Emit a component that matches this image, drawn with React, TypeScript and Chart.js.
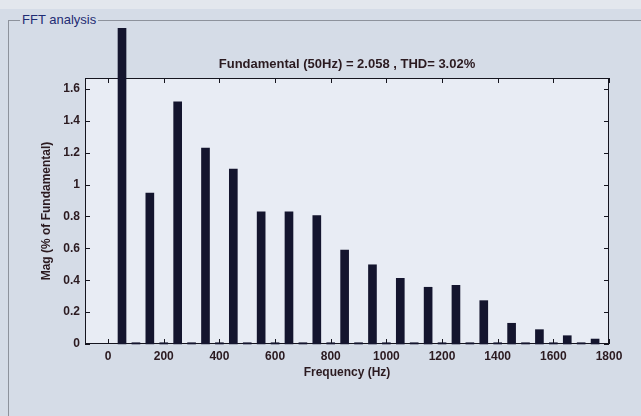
import React, { useEffect, useRef } from "react";
import { Chart, registerables } from "chart.js";

Chart.register(...registerables);

// Harmonic frequencies (Hz) and magnitudes (% of fundamental)
const frequencies = [50, 100, 150, 200, 250, 300, 350, 400, 450, 500, 550, 600, 650, 700, 750, 800, 850, 900, 950, 1000, 1050, 1100, 1150, 1200, 1250, 1300, 1350, 1400, 1450, 1500, 1550, 1600, 1650, 1700, 1750];
const magnitudes = [1.98, 0.008, 0.947, 0.008, 1.52, 0.008, 1.23, 0.008, 1.098, 0.008, 0.83, 0.008, 0.83, 0.008, 0.805, 0.008, 0.59, 0.008, 0.497, 0.008, 0.412, 0.008, 0.356, 0.008, 0.368, 0.008, 0.272, 0.008, 0.13, 0.008, 0.09, 0.008, 0.052, 0.008, 0.031];
const xTickValues = [0, 200, 400, 600, 800, 1000, 1200, 1400, 1600, 1800];
const yTickValues = [0, 0.2, 0.4, 0.6, 0.8, 1, 1.2, 1.4, 1.6];
const xRange = [-83, 1800];
const yRange = [0, 1.669];

const chartTitle = "Fundamental (50Hz) = 2.058 , THD= 3.02%";
const xTitle = "Frequency (Hz)";
const yTitle = "Mag (% of Fundamental)";
const panelTitle = "FFT analysis";

const FONT = "'Liberation Sans', Arial, sans-serif";
const TEXT = "#2b1a20";

const framePlugin = {
  id: "matlabFrame",
  beforeDraw(chart: any) {
    const { ctx, chartArea } = chart;
    const { left, right, top, bottom } = chartArea;
    ctx.save();
    ctx.fillStyle = "#e8ecf4";
    ctx.fillRect(left, top, right - left, bottom - top);
    ctx.restore();
  },
  beforeDatasetsDraw(chart: any) {
    const { ctx, chartArea, scales } = chart;
    const { left, right, top, bottom } = chartArea;
    const x = scales.x;
    const y = scales.y;
    ctx.save();
    ctx.strokeStyle = "#15151f";
    ctx.lineWidth = 1;
    ctx.strokeRect(left + 0.5, top + 0.5, right - left - 1, bottom - top - 1);
    const tl = 5;
    ctx.beginPath();
    xTickValues.forEach((v) => {
      const px = Math.round(x.getPixelForValue(v)) + 0.5;
      ctx.moveTo(px, bottom);
      ctx.lineTo(px, bottom - tl);
      ctx.moveTo(px, top);
      ctx.lineTo(px, top + tl);
    });
    yTickValues.forEach((v) => {
      const py = Math.round(y.getPixelForValue(v)) + 0.5;
      ctx.moveTo(left, py);
      ctx.lineTo(left + tl, py);
      ctx.moveTo(right, py);
      ctx.lineTo(right - tl, py);
    });
    ctx.stroke();
    ctx.fillStyle = TEXT;
    ctx.font = `bold 13px ${FONT}`;
    ctx.textAlign = "center";
    ctx.textBaseline = "middle";
    ctx.fillText(chartTitle, (left + right) / 2, 64);
    ctx.restore();
  },
};

export default function App() {
  const ref = useRef<HTMLCanvasElement | null>(null);

  useEffect(() => {
    if (!ref.current) return;
    const chart = new Chart(ref.current, {
      type: "bar",
      data: {
        datasets: [
          {
            data: frequencies.map((f, i) => ({ x: f, y: magnitudes[i] })),
            backgroundColor: "#14152e",
            borderWidth: 0,
            barThickness: 8,
            clip: false as any,
          },
        ],
      },
      options: {
        animation: false,
        responsive: false,
        layout: { padding: { top: 78, right: 32, left: 0, bottom: 0 } },
        plugins: {
          legend: { display: false },
          tooltip: { enabled: false },
          title: { display: false },
        },
        scales: {
          x: {
            type: "linear",
            min: xRange[0],
            max: xRange[1],
            offset: false,
            grid: { display: false, drawTicks: false, tickLength: 0 },
            border: { display: false },
            afterBuildTicks: (s: any) => {
              s.ticks = xTickValues.map((v) => ({ value: v }));
            },
            afterFit: (s: any) => {
              s.height = 72;
            },
            ticks: {
              color: TEXT,
              font: { family: FONT, size: 12, weight: "bold" },
              padding: 5,
              maxRotation: 0,
              autoSkip: false,
              callback: (v: any) => String(v),
            },
            title: {
              display: true,
              text: xTitle,
              color: TEXT,
              font: { family: FONT, size: 12, weight: "bold" },
              padding: { top: 0, bottom: 35.8 },
            },
          },
          y: {
            min: yRange[0],
            max: yRange[1],
            grid: { display: false, drawTicks: false, tickLength: 0 },
            border: { display: false },
            afterBuildTicks: (s: any) => {
              s.ticks = yTickValues.map((v) => ({ value: v }));
            },
            afterFit: (s: any) => {
              s.width = 85;
            },
            ticks: {
              color: TEXT,
              font: { family: FONT, size: 12, weight: "bold" },
              padding: 5,
              autoSkip: false,
              callback: (v: any) => String(parseFloat(Number(v).toFixed(1))),
            },
            title: {
              display: true,
              text: yTitle,
              color: TEXT,
              font: { family: FONT, size: 12, weight: "bold" },
              padding: { top: 39, bottom: 0 },
            },
          },
        },
      },
      plugins: [framePlugin],
    } as any);
    return () => chart.destroy();
  }, []);

  return (
    <div
      style={{
        position: "fixed",
        left: 0,
        top: 0,
        width: 641,
        height: 416,
        background: "#d5dce7",
        overflow: "hidden",
      }}
    >
      <div style={{ position: "absolute", left: 0, top: 0, width: 641, height: 9, background: "#e3e7ed" }} />
      <div
        style={{
          position: "absolute",
          left: 8,
          top: 20,
          right: 0,
          bottom: 0,
          borderTop: "1px solid #8d929c",
          borderLeft: "1px solid #8d929c",
        }}
      />
      <span
        style={{
          position: "absolute",
          left: 20,
          top: 12,
          padding: "0 2px",
          background: "#d5dce7",
          color: "#1f2c74",
          font: `13px ${FONT}`,
          lineHeight: "16px",
        }}
      >
        {panelTitle}
      </span>
      <canvas
        ref={ref}
        width={641}
        height={416}
        style={{ position: "absolute", left: 0, top: 0, width: 641, height: 416 }}
      />
    </div>
  );
}
